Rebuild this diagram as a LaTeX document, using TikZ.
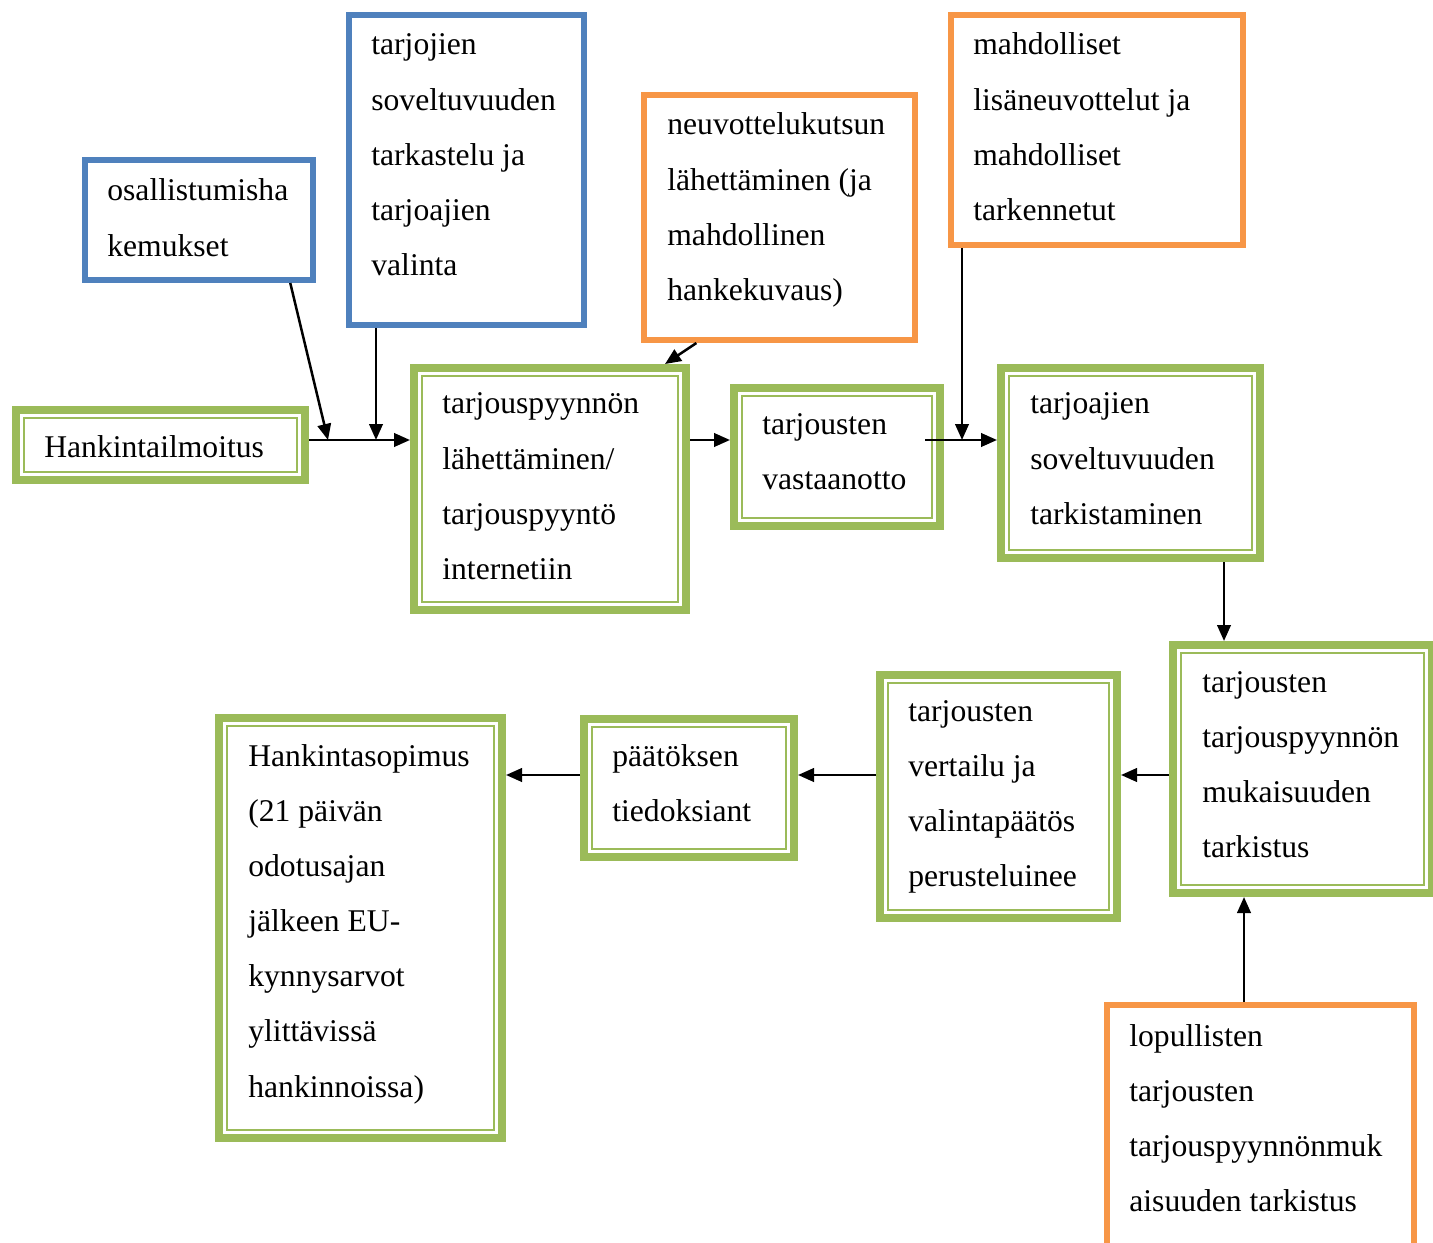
\documentclass[tikz,border=0pt]{standalone}
\usepackage{fontspec}
\setmainfont{Liberation Serif}
\usetikzlibrary{arrows.meta, positioning, fit, calc}
\definecolor{stepgreen}{RGB}{155, 187, 89}
\definecolor{infoblue}{RGB}{79, 129, 189}
\definecolor{neuvorange}{RGB}{247, 150, 70}

\begin{document}
\begin{tikzpicture}[x=0.02cm, y=-0.02cm,
    greenbox/.style={draw=stepgreen, line width=0.16cm, inner sep=0pt},
    bluebox/.style={draw=infoblue, line width=0.12cm, inner sep=0pt},
    orangebox/.style={draw=neuvorange, line width=0.12cm, inner sep=0pt},
    txt/.style={anchor=base west, inner sep=0pt, align=flush left, text width=8cm,
                font=\fontsize{18pt}{31.4pt}\selectfont},
    arr/.style={-{Triangle[length=0.32cm, width=0.27cm]}, line width=0.05cm}]
    \useasboundingbox (0,0) rectangle (1433,1243);

    % main steps (green)
    \node[greenbox, fit={(16,410) (305,480)}] (hank) {};
    \node[greenbox, fit={(414,368) (686,610)}] (pyynto) {};
    \node[greenbox, fit={(734,388) (940,526)}] (vast) {};
    \node[greenbox, fit={(1001,368) (1260,558)}] (sovel) {};
    \node[greenbox, fit={(1173,645) (1432,893)}] (mukais) {};
    \node[greenbox, fit={(880,675) (1117,918)}] (vert) {};
    \node[greenbox, fit={(584,719) (794,857)}] (paat) {};
    \node[greenbox, fit={(219,718) (502,1138)}] (sopimus) {};
    \foreach \b in {hank, pyynto, vast, sovel, mukais, vert, paat, sopimus}
        \draw[stepgreen, line width=0.04cm] ([shift={(12,12)}]\b.north west) rectangle ([shift={(-12,-12)}]\b.south east);

    % side steps
    \node[bluebox, fit={(85,160) (313,280)}] (osal) {};
    \node[bluebox, fit={(349,15) (584,325)}] (tarjoj) {};
    \node[orangebox, fit={(644,95) (915,340)}] (neuv) {};
    \node[orangebox, fit={(951,15) (1243,245)}] (mahd) {};
    \node[orangebox, fit={(1107,1005) (1414,1262)}] (lopul) {};

    % texts
    \node[txt] (hank-t) at (44,457) {Hankintailmoitus};
    \node[txt] (pyynto-t) at (442,414) {tarjouspyynnön\\lähettäminen/\\tarjouspyyntö\\internetiin};
    \node[txt] (vast-t) at (762,434) {tarjousten\\vastaanotto};
    \node[txt] (sovel-t) at (1030,414) {tarjoajien\\soveltuvuuden\\tarkistaminen};
    \node[txt] (mukais-t) at (1202,692) {tarjousten\\tarjouspyynnön\\mukaisuuden\\tarkistus};
    \node[txt] (vert-t) at (908,721) {tarjousten\\vertailu ja\\valintapäätös\\perusteluinee};
    \node[txt] (paat-t) at (612,766) {päätöksen\\tiedoksiant};
    \node[txt] (sopimus-t) at (248,766) {Hankintasopimus\\(21 päivän\\odotusajan\\jälkeen EU-\\kynnysarvot\\ylittävissä\\hankinnoissa)};
    \node[txt] (osal-t) at (107,201) {osallistumisha\\kemukset};
    \node[txt] (tarjoj-t) at (371,55) {tarjojien\\soveltuvuuden\\tarkastelu ja\\tarjoajien\\valinta};
    \node[txt] (neuv-t) at (667,135) {neuvottelukutsun\\lähettäminen (ja\\mahdollinen\\hankekuvaus)};
    \node[txt] (mahd-t) at (973,55) {mahdolliset\\lisäneuvottelut ja\\mahdolliset\\tarkennetut};
    \node[txt] (lopul-t) at (1129,1046) {lopullisten\\tarjousten\\tarjouspyynnönmuk\\aisuuden tarkistus};

    % connectors
    \coordinate (j1) at (328,440);
    \coordinate (j2) at (376,440);
    \coordinate (j3) at (962,440);
    \coordinate (j4) at (925,440);
    \coordinate (c1) at (1224,600);
    \coordinate (c2) at (1244,950);
    \coordinate (row) at (1000,775);
    \draw[arr] (hank.east |- j1) -- (pyynto.west |- j1);
    \draw[arr] ($(osal.south west)!0.89!(osal.south east)$) -- (j1);
    \draw[arr] (tarjoj.south -| j2) -- (j2);
    \draw[arr] ($(neuv.south west)!0.2!(neuv.south east)$) -- ([xshift=-0.5cm]pyynto.north east);
    \draw[arr] (pyynto.east |- j3) -- (vast.west |- j3);
    \draw[arr] (j4) -- (sovel.west |- j4);
    \draw[arr] (mahd.south -| j3) -- (j3);
    \draw[arr] (sovel.south -| c1) -- (mukais.north -| c1);
    \draw[arr] (mukais.west |- row) -- (vert.east |- row);
    \draw[arr] (vert.west |- row) -- (paat.east |- row);
    \draw[arr] (paat.west |- row) -- (sopimus.east |- row);
    \draw[arr] (lopul.north -| c2) -- (mukais.south -| c2);
\end{tikzpicture}
\end{document}
